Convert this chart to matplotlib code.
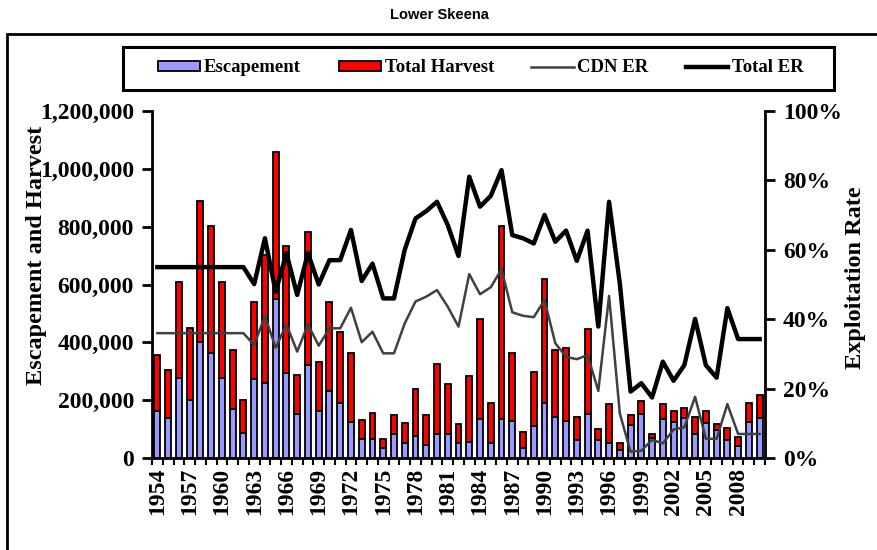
import numpy as np
import matplotlib
matplotlib.use('Agg')
import matplotlib.pyplot as plt
from matplotlib.patches import Rectangle
from matplotlib.ticker import FuncFormatter

years = list(range(1954, 2011))

# escapement and total run (escapement + harvest), fish
escapement = [163000, 138000, 276000, 201000, 402000, 362000, 276000, 170000, 86000, 273000,
              259000, 550000, 296000, 152000, 322000, 163000, 233000, 192000, 126000, 66000,
              66000, 35000, 83000, 52000, 77000, 46000, 83000, 83000, 52000, 57000,
              135000, 52000, 135000, 130000, 35000, 113000, 190000, 142000, 130000, 63000,
              152000, 63000, 52000, 29000, 115000, 152000, 69000, 136000, 126000, 140000,
              83000, 122000, 98000, 63000, 43000, 126000, 138000]
total_run = [356000, 305000, 610000, 449000, 889000, 803000, 610000, 374000, 201000, 541000,
             702000, 1056000, 734000, 288000, 780000, 331000, 541000, 437000, 362000, 132000,
             155000, 68000, 149000, 123000, 239000, 149000, 325000, 256000, 117000, 284000,
             481000, 192000, 803000, 362000, 90000, 298000, 619000, 374000, 380000, 142000,
             445000, 100000, 187000, 52000, 149000, 198000, 84000, 187000, 163000, 175000,
             144000, 163000, 117000, 106000, 75000, 192000, 219000]
harvest = [t - e for t, e in zip(total_run, escapement)]

# exploitation rates, %
cdn_er = [36, 36, 36, 36, 36, 36, 36, 36, 36, 32.6,
          40.9, 31.8, 38.5, 30.7, 38.5, 32.4, 37.4, 37.4, 43.3, 33.4,
          36.4, 30.2, 30.2, 38.8, 45.1, 46.5, 48.4, 43.6, 37.9, 53,
          47.2, 49.2, 54.4, 42, 41, 40.6, 45.5, 33.1, 29.2, 28.5,
          29.7, 19.4, 46.7, 12.9, 1.9, 2.2, 5.3, 4.3, 8.3, 8.9,
          17.7, 5.6, 5.6, 15.6, 7, 7, 7]
total_er = [55, 55, 55, 55, 55, 55, 55, 55, 55, 50.1,
            63.3, 47.9, 59, 47, 59, 50, 57, 57, 65.7, 51,
            56, 46, 46, 60, 69, 71.1, 73.8, 67.1, 58.2, 81,
            72.4, 75.5, 82.9, 64.2, 63.3, 61.8, 70, 62.3, 65.5, 56.8,
            65.5, 37.9, 73.8, 50.3, 19.2, 21.6, 17.5, 27.8, 22.3, 26.8,
            40.1, 26.8, 23.2, 43.2, 34.3, 34.3, 34.3]

serif = 'Liberation Serif'
x = np.arange(len(years))

fig = plt.figure(figsize=(8.78, 5.5), dpi=100)
ax = fig.add_axes([152 / 878, 1 - 458.3 / 550, (765 - 152) / 878, (458.3 - 110.7) / 550])
ax2 = ax.twinx()

b1 = ax.bar(x, escapement, width=0.55, color='#9999FF', edgecolor='black', linewidth=1.3,
            label='Escapement', zorder=2)
b2 = ax.bar(x, harvest, width=0.55, bottom=escapement, color='#FF0000', edgecolor='black',
            linewidth=1.3, label='Total Harvest', zorder=2)
l1, = ax2.plot(x, cdn_er, color='#404040', linewidth=1.8, label='CDN ER')
l2, = ax2.plot(x, total_er, color='black', linewidth=3.2, label='Total ER')

ax.set_xlim(-0.5, len(years) - 0.5)
ax.set_ylim(0, 1200000)
ax2.set_ylim(0, 100)
ax.set_yticks(np.arange(0, 1200001, 200000))
ax2.set_yticks(np.arange(0, 101, 20))
ax.yaxis.set_major_formatter(FuncFormatter(lambda v, p: f'{int(v):,}'))
ax2.yaxis.set_major_formatter(FuncFormatter(lambda v, p: f'{int(v)}%'))

ax.set_xticks(x[::3])
ax.set_xticklabels([str(y) for y in years[::3]], rotation=90, fontfamily=serif,
                   fontweight='bold', fontsize=17)
ax.set_xticks(np.arange(-0.5, len(years) + 0.5, 1), minor=True)
ax.tick_params(axis='x', which='major', length=0, pad=7)
ax.tick_params(axis='x', which='minor', length=5, width=1.5, direction='out')

for a in (ax, ax2):
    a.tick_params(axis='y', length=7, width=2, direction='out', pad=6)
    for lbl in a.get_yticklabels():
        lbl.set_fontfamily(serif)
        lbl.set_fontweight('bold')
        lbl.set_fontsize(17)
    a.spines['top'].set_visible(False)
    for s in ('left', 'right', 'bottom'):
        a.spines[s].set_linewidth(2)
ax.spines['right'].set_visible(False)
ax2.spines['left'].set_visible(False)
ax2.spines['bottom'].set_visible(False)

fig.text(37 / 878, 1 - 255 / 550, 'Escapement and Harvest', rotation=90, ha='center',
         va='center', fontfamily=serif, fontweight='bold', fontsize=17.5)
fig.text(856 / 878, 1 - 278 / 550, 'Exploitation Rate', rotation=90, ha='center',
         va='center', fontfamily=serif, fontweight='bold', fontsize=17.5)

fig.text(0.5, 1 - 15 / 550, 'Lower Skeena', ha='center', va='center',
         fontfamily='Liberation Sans', fontweight='bold', fontsize=10.5)

# chart area border
fig.patches.append(Rectangle((7 / 878, -0.1), 1.2, 1.1 - 34 / 550, transform=fig.transFigure,
                             fill=False, edgecolor='black', linewidth=2))
# legend box
fig.patches.append(Rectangle((123 / 878, 1 - 90 / 550), (834 - 123) / 878, 43 / 550,
                             transform=fig.transFigure, fill=False, edgecolor='black',
                             linewidth=2.2))

leg = fig.legend([b1, b2, l1, l2], ['Escapement', 'Total Harvest', 'CDN ER', 'Total ER'],
                 loc='center', bbox_to_anchor=(481 / 878, 1 - 68 / 550),
                 ncol=4, frameon=False,
                 prop={'family': serif, 'weight': 'bold', 'size': 13.5},
                 handlelength=2.25, handleheight=0.45, handletextpad=0.2, columnspacing=2.0,
                 borderpad=0.0)

fig.savefig('out.png', dpi=100)
